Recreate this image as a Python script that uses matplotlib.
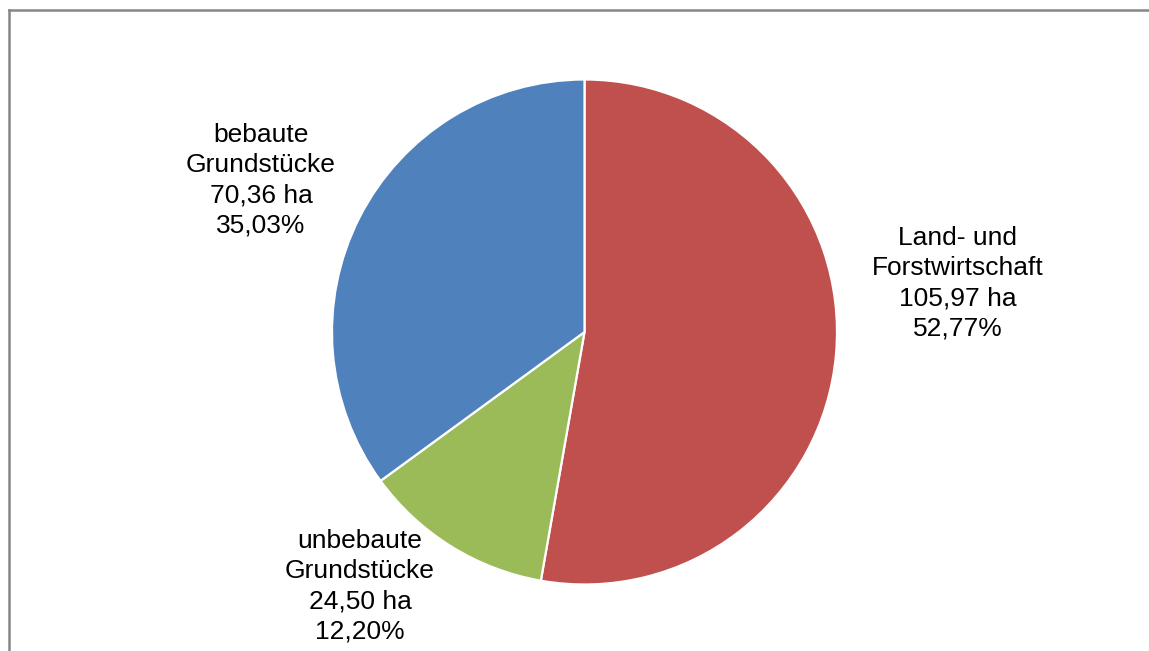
import matplotlib
matplotlib.use("Agg")
import matplotlib.pyplot as plt
from matplotlib.lines import Line2D

categories = ["Land- und\nForstwirtschaft", "unbebaute\nGrundstücke", "bebaute\nGrundstücke"]
hectares = [105.97, 24.50, 70.36]
percents = [52.77, 12.20, 35.03]
colors = ["#C0504D", "#9BBB59", "#4F81BD"]

W, H = 1149, 651
cx, cy, R = 584.5, 332.0, 252.5

fig = plt.figure(figsize=(W / 100, H / 100), dpi=100)
ax = fig.add_axes([0, 0, 1, 1])
ax.axis("off")

ax.pie(hectares, colors=colors, startangle=90, counterclock=False, radius=1,
       center=(0, 0), wedgeprops=dict(edgecolor="white", linewidth=1.6),
       frame=False)
ax.set_xlim(-cx / R, (W - cx) / R)
ax.set_ylim((cy - H) / R, cy / R)
ax.set_aspect("auto")

def fmt(v):
    return f"{v:.2f}".replace(".", ",")

label_px = [(958, 283), (360, 586), (261, 180)]
for cat, ha_, pc, (px, py) in zip(categories, hectares, percents, label_px):
    txt = f"{cat}\n{fmt(ha_)} ha\n{fmt(pc)}%"
    ax.text((px - cx) / R, (cy - py) / R, txt, ha="center", va="center",
            fontsize=19, family="Liberation Sans", color="#000000",
            linespacing=1.33)

# chart border (top and left)
fig.add_artist(Line2D([8.5 / W, 1.0], [1 - 9.5 / H, 1 - 9.5 / H],
                      transform=fig.transFigure, color="#868686", linewidth=1.8))
fig.add_artist(Line2D([8.5 / W, 8.5 / W], [0, 1 - 9.5 / H],
                      transform=fig.transFigure, color="#868686", linewidth=1.8))

fig.savefig("out.png", dpi=100)
